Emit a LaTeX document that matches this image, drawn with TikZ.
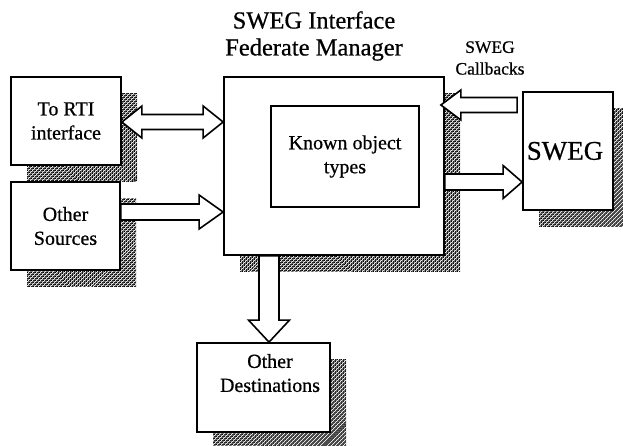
\documentclass[tikz,border=0pt]{standalone}
\usepackage{fontspec}
\setmainfont{Liberation Serif}[FakeBold=0.6]
\usetikzlibrary{calc,shadows,patterns.meta}

% dark diagonal checker used for the drop shadows
\tikzdeclarepattern{
  name=checkshade,
  type=colored,
  bounding box={(0pt,0pt) and (3pt,3pt)},
  tile size={(3pt,3pt)},
  tile transformation={rotate=45},
  code={
    \pgfsetfillcolor{black!40}
    \pgfpathrectangle{\pgfpointorigin}{\pgfpoint{3pt}{3pt}}
    \pgfusepath{fill}
    \pgfsetfillcolor{black}
    \pgfpathrectangle{\pgfpointorigin}{\pgfpoint{1.5pt}{1.5pt}}
    \pgfpathrectangle{\pgfpoint{1.5pt}{1.5pt}}{\pgfpoint{1.5pt}{1.5pt}}
    \pgfusepath{fill}
  }
}

\tikzset{
  box/.style={draw, line width=1.8pt, fill=white, rectangle, inner sep=2pt,
    align=center, font=\fontsize{20}{24}\selectfont},
  shadowed/.style={general shadow={shadow xshift=16pt, shadow yshift=-16pt,
    draw=none, pattern=checkshade}},
  fatbody/.style={draw, line width=1.6pt, fill=white, line join=miter},
  headline/.style={align=center, font=\fontsize{24.5}{27}\selectfont},
  smalllabel/.style={align=center, font=\fontsize{17.5}{21.7}\selectfont},
}

% block arrow from #1 to #2: shaft half width #3, head half width #4, head length #5
\newcommand{\blockarrow}[5]{%
  \coordinate (ba-h) at ($(#2)!#5!(#1)$);
  \draw[fatbody] ($(#1)!#3!90:(#2)$) -- ($(ba-h)!#3!-90:(#1)$)
    -- ($(ba-h)!#4!-90:(#1)$) -- (#2) -- ($(ba-h)!#4!90:(#1)$)
    -- ($(ba-h)!#3!90:(#1)$) -- ($(#1)!#3!-90:(#2)$) -- cycle;
}
% block arrow with a head at both ends
\newcommand{\twowayarrow}[5]{%
  \coordinate (ba-a) at ($(#1)!#5!(#2)$);
  \coordinate (ba-b) at ($(#2)!#5!(#1)$);
  \draw[fatbody] (#1) -- ($(ba-a)!#4!90:(#2)$) -- ($(ba-a)!#3!90:(#2)$)
    -- ($(ba-b)!#3!-90:(#1)$) -- ($(ba-b)!#4!-90:(#1)$) -- (#2)
    -- ($(ba-b)!#4!90:(#1)$) -- ($(ba-b)!#3!90:(#1)$)
    -- ($(ba-a)!#3!-90:(#2)$) -- ($(ba-a)!#4!-90:(#2)$) -- cycle;
}

\begin{document}
\begin{tikzpicture}[x=1pt, y=-1pt]
\useasboundingbox (0,0) rectangle (623,445);

% boxes
\node[box, shadowed, minimum width=110pt, minimum height=88pt] (rti) at (66,121) {To RTI\\interface};
\node[box, shadowed, minimum width=109pt, minimum height=88pt] (src) at (65.5,226) {Other\\Sources};
\node[box, shadowed, minimum width=220pt, minimum height=178pt] (fm) at (334,166) {};
\node[box, minimum width=148pt, minimum height=101pt] (known) at (345,156.5) {Known object\\types};
\node[box, shadowed, minimum width=90pt, minimum height=118pt,
      font=\fontsize{27}{30}\selectfont, text width=84pt] (sweg) at (568,151) {\hspace*{-6pt}SWEG};
\node[box, shadowed, minimum width=133pt, minimum height=89pt] (dest) at (263.5,387.5) {};
\node[box, draw=none, fill=none, anchor=north] (destlbl) at ($(dest.north)+(6.5,9)$) {Other\\Destinations};

% block arrows
\coordinate (a1s) at (rti.east |- 0,122);
\coordinate (a1e) at (fm.west |- 0,122);
\twowayarrow{a1s}{a1e}{7.5pt}{16pt}{20pt}

\coordinate (a2s) at (src.east |- 0,212);
\coordinate (a2e) at (fm.west |- 0,212);
\blockarrow{a2s}{a2e}{8pt}{17pt}{24pt}

\coordinate (a3s) at ($(sweg.west |- 0,105)+(-5,0)$);
\coordinate (a3e) at ($(fm.east |- 0,105)+(-4,0)$);
\blockarrow{a3s}{a3e}{7.5pt}{15pt}{20pt}

\coordinate (a4s) at (fm.east |- 0,182);
\coordinate (a4e) at (sweg.west |- 0,182);
\blockarrow{a4s}{a4e}{8pt}{16.5pt}{19pt}

\coordinate (a5s) at (fm.south -| 269,0);
\coordinate (a5e) at (dest.north -| 269,0);
\blockarrow{a5s}{a5e}{10pt}{20.5pt}{22pt}

% titles
\node[headline] (title) at (314,36) {SWEG Interface\\Federate Manager};
\node[smalllabel] (cb) at (490,58) {SWEG\\Callbacks};
\end{tikzpicture}
\end{document}
